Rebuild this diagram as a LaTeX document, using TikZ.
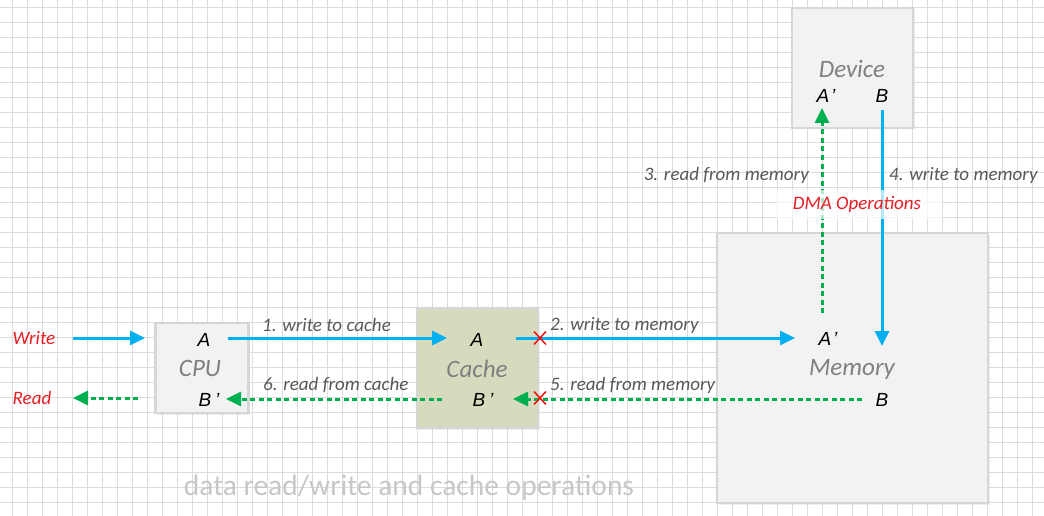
\documentclass[tikz,border=0pt]{standalone}
\usepackage{fontspec}
\setmainfont{Carlito}
\newfontfamily\lettfont{Liberation Sans}
\usetikzlibrary{arrows.meta,shadows}
\definecolor{gridc}{HTML}{DCDCDC}
\definecolor{boxfill}{HTML}{F2F2F2}
\definecolor{boxline}{HTML}{D6D6D6}
\definecolor{cachefill}{HTML}{D7DBBD}
\definecolor{wblue}{HTML}{00B0F0}
\definecolor{rgreen}{HTML}{00B050}
\definecolor{lbl}{HTML}{595959}
\definecolor{ttl}{HTML}{808080}
\definecolor{redc}{HTML}{E81E25}
\begin{document}
\begin{tikzpicture}[x=1pt,y=-1pt,
  gridline/.style={draw=gridc,line width=0.9pt},
  unitbox/.style={draw=boxline,line width=2.5pt,fill=boxfill,inner sep=0pt,
     drop shadow={opacity=0.12,shadow xshift=1.5pt,shadow yshift=-1.5pt}},
  letter/.style={font=\lettfont\fontsize{19}{22}\selectfont\itshape,text=black,inner sep=0pt},
  boxname/.style={font=\fontsize{25}{28}\selectfont\itshape,text=ttl,inner sep=0pt},
  oplabel/.style={font=\fontsize{19}{22}\selectfont\itshape,text=lbl,inner sep=0pt},
  redlabel/.style={font=\fontsize{19}{22}\selectfont\itshape,text=redc,inner sep=0pt},
  writearrow/.style={draw=wblue,line width=3pt,-{Triangle[length=15pt,width=14pt]}},
  readarrow/.style={draw=rgreen,line width=3pt,dash pattern=on 5pt off 3.5pt,-{Triangle[length=15pt,width=14pt]}},
  crossmark/.style={draw=red,line width=1.4pt}
]
\useasboundingbox (0,0) rectangle (1044,516);
\fill[white] (0,0) rectangle (1044,516);
% grid
\foreach \i in {0,...,69} {\draw[gridline] (12.7+15*\i,0) -- (12.7+15*\i,516);}
\foreach \j in {0,...,34} {\draw[gridline] (0,7.5+15*\j) -- (1044,7.5+15*\j);}

% boxes
\node[unitbox,minimum width=93pt,minimum height=90pt] (cpu) at (202,368) {};
\node[unitbox,fill=cachefill,minimum width=121pt,minimum height=120pt] (cache) at (477.5,368) {};
\node[unitbox,minimum width=271pt,minimum height=270pt] (memory) at (852.5,368) {};
\node[unitbox,minimum width=121pt,minimum height=120pt] (device) at (852.5,68) {};

% box texts
\node[letter] (cpuA) at (204,340) {A};
\node[letter] (cpuB) at (209,400) {B\hspace{4pt}’};
\node[boxname] (cpuN) at (200,368) {CPU};
\node[letter] (cacheA) at (477,340) {A};
\node[boxname] (cacheN) at (477,369) {Cache};
\node[letter] (cacheB) at (483,400) {B\hspace{4pt}’};
\node[letter] (memA) at (828,339) {A\hspace{2pt}’};
\node[boxname] (memN) at (852,369) {Memory};
\node[letter] (memB) at (882,400) {B};
\node[boxname] (devN) at (852,69) {Device};
\node[letter] (devA) at (826,96) {A\hspace{2pt}’};
\node[letter] (devB) at (882,96) {B};

% arrow end points
\coordinate (wS) at (73,338);
\coordinate (wE) at (145,338);
\coordinate (rS) at (138,398);
\coordinate (rE) at (73,398);
\coordinate (a1S) at (228,338);
\coordinate (a1E) at (447,338);
\coordinate (a2S) at (516,338);
\coordinate (a2E) at (795,338);
\coordinate (a5S) at (862,399);
\coordinate (a5E) at (513,399);
\coordinate (a6S) at (442,399);
\coordinate (a6E) at (226,399);
\coordinate (a3S) at (822,313);
\coordinate (a3E) at (822,108);
\coordinate (a4S) at (882,110);
\coordinate (a4E) at (882,346);

\draw[writearrow] (wS) -- (wE);
\draw[readarrow] (rS) -- (rE);
\draw[writearrow] (a1S) -- (a1E);
\draw[writearrow] (a2S) -- (a2E);
\draw[readarrow] (a5S) -- (a5E);
\draw[readarrow] (a6S) -- (a6E);
\draw[readarrow] (a3S) -- (a3E);
\draw[writearrow] (a4S) -- (a4E);

% red crosses
\coordinate (x1) at (540,338);
\coordinate (x2) at (540,398);
\draw[crossmark] ([shift={(-6,-6.5)}]x1) -- ([shift={(6,6.5)}]x1) ([shift={(-6,6.5)}]x1) -- ([shift={(6,-6.5)}]x1);
\draw[crossmark] ([shift={(-6,-6.5)}]x2) -- ([shift={(6,6.5)}]x2) ([shift={(-6,6.5)}]x2) -- ([shift={(6,-6.5)}]x2);

% labels
\node[redlabel] (wlbl) at (34,338) {Write};
\node[redlabel] (rlbl) at (32,398) {Read};
\node[oplabel,anchor=west] (l1) at (262,325) {1. write to cache};
\node[oplabel,anchor=west] (l2) at (550,325) {2. write to memory};
\node[oplabel,anchor=west] (l5) at (550,385) {5. read from memory};
\node[oplabel,anchor=west] (l6) at (263,385) {6. read from cache};
\node[oplabel,anchor=east] (l3) at (809,175) {3. read from memory};
\node[oplabel,anchor=west] (l4) at (889,175) {4. write to memory};

\fill[white,opacity=0.7] (777,190) rectangle (942,219);
\node[redlabel] (dma) at (857,204) {DMA Operations};

\node[font=\fontsize{29.5}{32}\selectfont,text=black!22,inner sep=0pt] (title) at (409,488) {data read/write and cache operations};
\end{tikzpicture}
\end{document}
